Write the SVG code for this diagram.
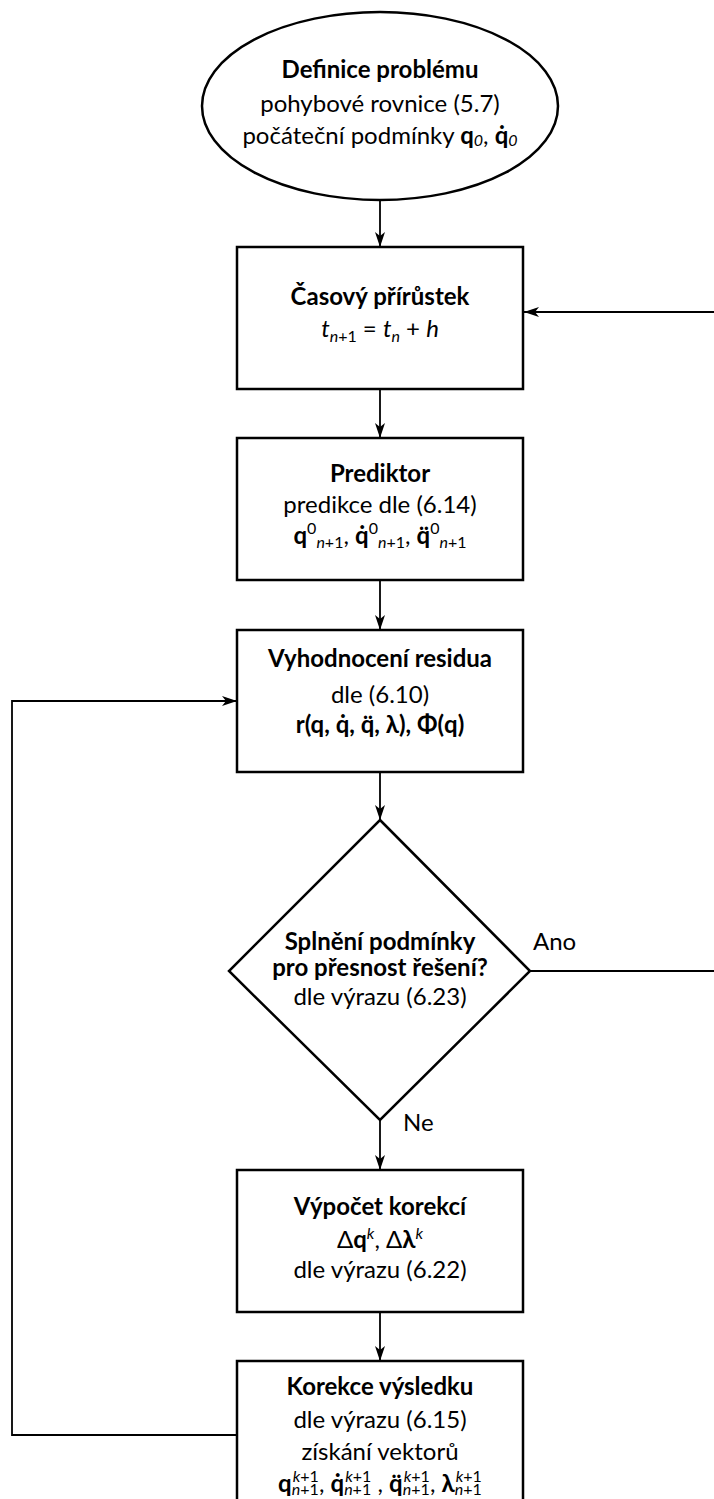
<svg xmlns="http://www.w3.org/2000/svg" width="714" height="1499" viewBox="0 0 714 1499">
<style>
.shape{fill:#fff;stroke:#000;stroke-width:2.5}
.conn{fill:none;stroke:#000;stroke-width:1.8}
text{font-family:Lato,"Liberation Sans",sans-serif;font-size:24px;fill:#000}
.c{text-anchor:middle}
.b{font-weight:bold}
.i{font-style:italic}
.s{font-size:16px}
</style>
<defs>
<marker id="arr" markerUnits="userSpaceOnUse" markerWidth="16" markerHeight="12" refX="15" refY="5" orient="auto">
<path d="M0,0 L15,5 L0,10 L4,5 z" fill="#000"/>
</marker>
</defs>
<rect width="714" height="1499" fill="#fff"/>
<g id="connectors">
<line class="conn" x1="380" y1="200" x2="380" y2="247" marker-end="url(#arr)"/>
<line class="conn" x1="380" y1="389" x2="380" y2="438" marker-end="url(#arr)"/>
<line class="conn" x1="380" y1="580" x2="380" y2="630" marker-end="url(#arr)"/>
<line class="conn" x1="380" y1="772" x2="380" y2="820" marker-end="url(#arr)"/>
<line class="conn" x1="380" y1="1120" x2="380" y2="1170" marker-end="url(#arr)"/>
<line class="conn" x1="380" y1="1312" x2="380" y2="1361" marker-end="url(#arr)"/>
<polyline class="conn" points="530,971 717,971 717,312 524,312" marker-end="url(#arr)"/>
<polyline class="conn" points="237,1435 12,1435 12,701 237,701" marker-end="url(#arr)"/>
<text x="533" y="950">Ano</text>
<text x="403" y="1131">Ne</text>
</g>
<g id="n_definice">
<ellipse class="shape" cx="380" cy="106" rx="178" ry="94"/>
<text class="c b" x="380" y="78">Definice problému</text>
<text class="c" x="380" y="112">pohybové rovnice (5.7)</text>
<text class="c" x="380" y="144">počáteční podmínky <tspan class="b">q</tspan><tspan class="i s" dy="2">0</tspan><tspan dy="-2">, </tspan><tspan class="b">q̇</tspan><tspan class="i s" dy="2">0</tspan></text>
</g>
<g id="n_casovy">
<rect class="shape" x="237" y="247" width="286" height="142"/>
<text class="c b" x="380" y="305">Časový přírůstek</text>
<text class="c" x="380" y="337"><tspan class="i">t</tspan><tspan class="s" dy="5"><tspan class="i">n</tspan>+1</tspan><tspan dy="-5"> = </tspan><tspan class="i">t</tspan><tspan class="s i" dy="5">n</tspan><tspan dy="-5"> + </tspan><tspan class="i">h</tspan></text>
</g>
<g id="n_prediktor">
<rect class="shape" x="237" y="438" width="286" height="142"/>
<text class="c b" x="380" y="482">Prediktor</text>
<text class="c" x="380" y="513">predikce dle (6.14)</text>
<text class="c" x="380" y="544"><tspan class="b">q</tspan><tspan class="s" dy="-10">0</tspan><tspan class="s" dy="14"><tspan class="i">n</tspan>+1</tspan><tspan dy="-4">, </tspan><tspan class="b">q̇</tspan><tspan class="s" dy="-10">0</tspan><tspan class="s" dy="14"><tspan class="i">n</tspan>+1</tspan><tspan dy="-4">, </tspan><tspan class="b">q̈</tspan><tspan class="s" dy="-10">0</tspan><tspan class="s" dy="14"><tspan class="i">n</tspan>+1</tspan></text>
</g>
<g id="n_residuum">
<rect class="shape" x="237" y="630" width="286" height="142"/>
<text class="c b" x="380" y="667">Vyhodnocení residua</text>
<text class="c" x="380" y="703">dle (6.10)</text>
<text class="c b" x="380" y="733">r(q, q̇, q̈, λ), Φ(q)</text>
</g>
<g id="n_podminka">
<polygon class="shape" points="380,820 530,971 380,1120 229,971"/>
<text class="c b" x="380" y="950">Splnění podmínky</text>
<text class="c b" x="380" y="976">pro přesnost řešení?</text>
<text class="c" x="380" y="1005">dle výrazu (6.23)</text>
</g>
<g id="n_korekce">
<rect class="shape" x="237" y="1170" width="286" height="142"/>
<text class="c b" x="380" y="1215">Výpočet korekcí</text>
<text class="c" x="380" y="1248">Δ<tspan class="b">q</tspan><tspan class="s i" dy="-9">k</tspan><tspan dy="9">, Δ</tspan><tspan class="b">λ</tspan><tspan class="s i" dy="-9">k</tspan></text>
<text class="c" x="380" y="1278">dle výrazu (6.22)</text>
</g>
<g id="n_vysledek">
<rect class="shape" x="237" y="1361" width="286" height="160"/>
<text class="c b" x="380" y="1395">Korekce výsledku</text>
<text class="c" x="380" y="1428">dle výrazu (6.15)</text>
<text class="c" x="380" y="1460">získání vektorů</text>
<text class="c" x="380" y="1492"><tspan class="b">q</tspan><tspan class="s" dy="3"><tspan class="i">n</tspan>+1</tspan><tspan class="s" dx="-26" dy="-13"><tspan class="i">k</tspan>+1</tspan><tspan dy="10">, </tspan><tspan class="b">q̇</tspan><tspan class="s" dy="3"><tspan class="i">n</tspan>+1</tspan><tspan class="s" dx="-26" dy="-13"><tspan class="i">k</tspan>+1</tspan><tspan dy="10"> , </tspan><tspan class="b">q̈</tspan><tspan class="s" dy="3"><tspan class="i">n</tspan>+1</tspan><tspan class="s" dx="-26" dy="-13"><tspan class="i">k</tspan>+1</tspan><tspan dy="10">, </tspan><tspan class="b">λ</tspan><tspan class="s" dy="3"><tspan class="i">n</tspan>+1</tspan><tspan class="s" dx="-26" dy="-13"><tspan class="i">k</tspan>+1</tspan></text>
</g>
</svg>
